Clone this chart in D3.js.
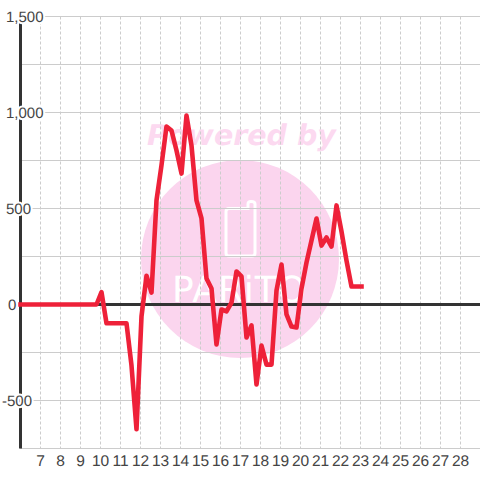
<!DOCTYPE html>
<html><head><meta charset="utf-8">
<script src="https://cdnjs.cloudflare.com/ajax/libs/d3/7.8.5/d3.min.js"></script>
<style>html,body{margin:0;padding:0;background:#fff}svg{display:block;text-rendering:geometricPrecision}</style>
</head><body><svg id="c" width="480" height="480"></svg>
<script>
const xTicks = d3.range(7, 29);
const yGridValues = [1500, 1250, 1000, 750, 500, 250, 0, -250, -500, -750];
const yLabelValues = [1500, 1000, 500, 0, -500];
const hours = [6,9.8,10.05,10.3,11.3,11.55,11.8,12.05,12.3,12.55,12.8,13.05,13.3,13.55,13.8,14.05,14.3,14.55,14.8,15.05,15.3,15.55,15.8,16.05,16.3,16.55,16.8,17.05,17.3,17.55,17.8,18.05,18.3,18.55,18.8,19.05,19.3,19.55,19.8,20.05,20.3,20.55,20.8,21.05,21.3,21.55,21.8,22.05,22.3,22.55,23.05];
const values = [0,0,65,-98,-98,-318,-650,-62,150,62,542,725,927,906,802,682,984,828,542,448,135,83,-208,-26,-36,10,172,146,-172,-109,-417,-214,-313,-313,73,208,-52,-115,-120,83,219,333,448,307,349,302,516,380,229,94,94];

const svg = d3.select('#c');
const x = d3.scaleLinear().domain([6, 29]).range([20.5, 480.5]);
const y = d3.scaleLinear().domain([1500, -750]).range([16.5, 448.5]);
const pink = '#fbd5ee';

// watermark
const wm = svg.append('g');
wm.append('text').attr('x', 241.5).attr('y', 145).attr('text-anchor', 'middle')
  .attr('font-family', 'DejaVu Sans').attr('font-weight', 'bold').attr('font-style', 'italic')
  .attr('font-size', 28.5).attr('fill', '#fcd9f0').text('Powered by');
wm.append('circle').attr('cx', 240).attr('cy', 259).attr('r', 99).attr('fill', pink);
wm.append('path').attr('d', 'M229 208.5H248V204Q248 201.5 251 201.5Q255 201.5 255 204V253Q255 256 252 256H229Q226 256 226 253V211.5Q226 208.5 229 208.5Z')
  .attr('fill', 'none').attr('stroke', '#fff').attr('stroke-width', 3);
wm.append('text').attr('x', 172).attr('y', 302).attr('textLength', 134)
  .attr('font-family', 'DejaVu Sans').attr('font-size', 36)
  .attr('fill', '#fff').text('PARiTO');

// grid
svg.append('g').selectAll('line').data(xTicks).join('line')
  .attr('x1', d => x(d)).attr('x2', d => x(d)).attr('y1', y(1500)).attr('y2', y(-750))
  .attr('stroke', '#ccc').attr('stroke-dasharray', '3,2');
svg.append('g').selectAll('line').data(yGridValues).join('line')
  .attr('x1', 20).attr('x2', 480).attr('y1', d => y(d)).attr('y2', d => y(d))
  .attr('stroke', '#ccc');

// axis lines
svg.append('line').attr('x1', 20).attr('x2', 480).attr('y1', y(0)).attr('y2', y(0)).attr('stroke', '#333').attr('stroke-width', 3);
svg.append('line').attr('x1', 20.5).attr('x2', 20.5).attr('y1', y(1500)).attr('y2', y(-750)).attr('stroke', '#333').attr('stroke-width', 3);

// series
const line = d3.line().x((d, i) => x(hours[i])).y(d => y(d));
svg.append('path').datum(values).attr('d', line).attr('fill', 'none')
  .attr('stroke', '#ee2139').attr('stroke-width', 4.6).attr('stroke-linejoin', 'round').attr('stroke-linecap', 'square');

// labels
const font = 'Liberation Sans';
svg.append('g').selectAll('text').data(yLabelValues).join('text')
  .attr('x', d => d < 0 ? 2 : d === 0 ? 8 : 6)
  .attr('y', d => y(d) + 5.5)
  .attr('font-family', font).attr('font-size', 15).attr('fill', '#444')
  .attr('stroke', '#fff').attr('stroke-width', 4).attr('paint-order', 'stroke')
  .text(d => d3.format(',')(d).replace('−', '-'));
svg.append('g').selectAll('text').data(xTicks).join('text')
  .attr('x', d => x(d)).attr('y', 466).attr('text-anchor', 'middle')
  .attr('font-family', font).attr('font-size', 15.5).attr('fill', '#444')
  .text(d => d);
</script></body></html>
